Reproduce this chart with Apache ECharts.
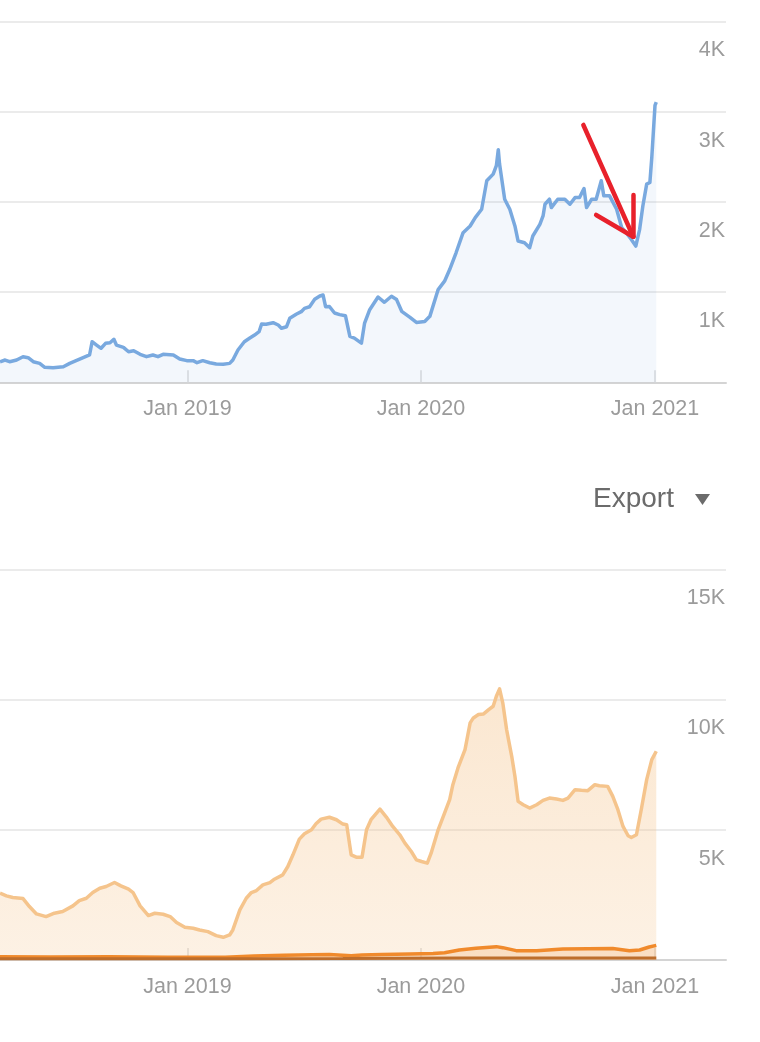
<!DOCTYPE html>
<html>
<head>
<meta charset="utf-8">
<script src="https://cdn.jsdelivr.net/npm/echarts@6/dist/echarts.min.js"></script>
<style>
html,body{margin:0;padding:0;background:#fff;}
#c{width:760px;height:1042px;}
</style>
</head>
<body>
<div id="c"></div>
<script>
// ---- data ----
const yearTicks = ['2019-01-01', '2020-01-01', '2021-01-01'];
const xRange = ['2018-03-14', '2021-04-22'];
const topYTicks = [0, 1000, 2000, 3000, 4000];
const bottomYTicks = [0, 5000, 10000, 15000];

const blueLine = [['2018-03-14',228],['2018-03-22',247],['2018-03-29',228],['2018-04-09',247],['2018-04-19',284],['2018-04-27',273],['2018-05-05',228],['2018-05-15',210],['2018-05-23',166],['2018-06-05',162],['2018-06-21',173],['2018-07-01',210],['2018-07-11',240],['2018-07-22',273],['2018-08-01',303],['2018-08-05',450],['2018-08-12',413],['2018-08-19',377],['2018-08-26',432],['2018-09-02',439],['2018-09-08',477],['2018-09-12',413],['2018-09-23',388],['2018-10-01',339],['2018-10-09',350],['2018-10-19',310],['2018-10-29',284],['2018-11-08',303],['2018-11-16',284],['2018-11-24',310],['2018-12-10',303],['2018-12-20',258],['2018-12-31',240],['2019-01-10',240],['2019-01-16',217],['2019-01-25',240],['2019-02-05',217],['2019-02-15',203],['2019-02-26',200],['2019-03-08',210],['2019-03-13',247],['2019-03-21',358],['2019-03-31',450],['2019-04-08',488],['2019-04-16',524],['2019-04-23',561],['2019-04-27',646],['2019-05-04',643],['2019-05-15',661],['2019-05-23',635],['2019-05-28',599],['2019-06-05',616],['2019-06-10',710],['2019-06-20',754],['2019-06-28',783],['2019-07-03',820],['2019-07-11',838],['2019-07-19',920],['2019-07-27',957],['2019-08-01',968],['2019-08-05',838],['2019-08-11',840],['2019-08-19',768],['2019-08-27',750],['2019-09-05',738],['2019-09-12',508],['2019-09-19',490],['2019-09-30',434],['2019-10-05',657],['2019-10-13',805],['2019-10-26',946],['2019-11-05',887],['2019-11-16',954],['2019-11-24',917],['2019-12-02',787],['2019-12-15',720],['2019-12-25',664],['2020-01-07',675],['2020-01-15',731],['2020-01-28',1028],['2020-02-07',1121],['2020-02-15',1250],['2020-02-25',1436],['2020-03-07',1659],['2020-03-18',1733],['2020-03-26',1826],['2020-04-05',1918],['2020-04-13',2234],['2020-04-23',2308],['2020-04-28',2401],['2020-05-01',2579],['2020-05-03',2419],['2020-05-11',2030],['2020-05-19',1918],['2020-05-27',1733],['2020-06-01',1566],['2020-06-11',1547],['2020-06-19',1492],['2020-06-24',1622],['2020-07-05',1751],['2020-07-10',1844],['2020-07-13',1974],['2020-07-20',2030],['2020-07-23',1937],['2020-08-02',2030],['2020-08-13',2030],['2020-08-21',1974],['2020-08-29',2048],['2020-09-05',2048],['2020-09-12',2148],['2020-09-16',1937],['2020-09-24',2030],['2020-10-01',2030],['2020-10-09',2234],['2020-10-13',2067],['2020-10-22',2067],['2020-11-02',1918],['2020-11-10',1714],['2020-11-17',1659],['2020-11-25',1584],['2020-12-02',1510],['2020-12-08',1696],['2020-12-13',1955],['2020-12-19',2197],['2020-12-24',2215],['2020-12-27',2494],['2021-01-01',3069],['2021-01-03',3106]];

const lightOrange = [['2018-03-14',2564],['2018-03-24',2462],['2018-04-03',2397],['2018-04-19',2359],['2018-04-29',2051],['2018-05-10',1769],['2018-05-25',1667],['2018-06-07',1795],['2018-06-20',1859],['2018-07-06',2077],['2018-07-16',2282],['2018-07-27',2372],['2018-08-06',2590],['2018-08-17',2756],['2018-08-27',2820],['2018-09-09',2974],['2018-09-19',2846],['2018-10-01',2718],['2018-10-08',2590],['2018-10-19',2077],['2018-11-01',1705],['2018-11-11',1795],['2018-11-24',1757],['2018-12-05',1667],['2018-12-15',1436],['2018-12-28',1256],['2019-01-10',1218],['2019-01-20',1154],['2019-02-02',1090],['2019-02-15',936],['2019-02-26',872],['2019-03-08',962],['2019-03-13',1154],['2019-03-24',1923],['2019-04-03',2372],['2019-04-11',2590],['2019-04-19',2667],['2019-04-29',2885],['2019-05-10',2974],['2019-05-17',3102],['2019-05-30',3269],['2019-06-07',3590],['2019-06-15',4039],['2019-06-25',4642],['2019-07-03',4846],['2019-07-14',5000],['2019-07-21',5231],['2019-07-29',5410],['2019-08-11',5480],['2019-08-22',5385],['2019-09-01',5218],['2019-09-07',5192],['2019-09-14',4038],['2019-09-22',3949],['2019-10-01',3949],['2019-10-08',5000],['2019-10-15',5385],['2019-10-29',5795],['2019-11-08',5487],['2019-11-18',5128],['2019-11-29',4808],['2019-12-07',4487],['2019-12-17',4166],['2019-12-25',3846],['2020-01-02',3782],['2020-01-11',3718],['2020-01-17',4102],['2020-01-28',5000],['2020-02-07',5641],['2020-02-15',6154],['2020-02-20',6731],['2020-02-28',7372],['2020-03-10',8076],['2020-03-18',9102],['2020-03-23',9294],['2020-03-31',9423],['2020-04-08',9448],['2020-04-16',9615],['2020-04-23',9743],['2020-04-28',10128],['2020-05-03',10410],['2020-05-08',9872],['2020-05-14',8846],['2020-05-22',7820],['2020-05-27',7051],['2020-06-01',6089],['2020-06-09',5962],['2020-06-19',5834],['2020-06-30',5962],['2020-07-10',6128],['2020-07-20',6218],['2020-07-31',6179],['2020-08-10',6128],['2020-08-18',6218],['2020-08-29',6538],['2020-09-08',6513],['2020-09-18',6500],['2020-09-29',6731],['2020-10-06',6692],['2020-10-19',6666],['2020-10-27',6282],['2020-11-04',5769],['2020-11-12',5128],['2020-11-20',4769],['2020-11-25',4705],['2020-12-03',4808],['2020-12-11',5834],['2020-12-19',6923],['2020-12-27',7692],['2021-01-03',8013]];

const darkOrange = [['2018-03-14',125],['2018-06-01',115],['2018-09-01',120],['2018-12-01',110],['2019-03-01',105],['2019-04-15',150],['2019-06-01',185],['2019-07-15',205],['2019-08-11',215],['2019-09-14',160],['2019-10-01',190],['2019-11-01',215],['2019-12-15',235],['2020-01-20',250],['2020-02-07',282],['2020-03-01',385],['2020-03-27',449],['2020-04-28',513],['2020-05-08',474],['2020-05-29',359],['2020-06-30',359],['2020-08-10',420],['2020-10-27',440],['2020-11-22',359],['2020-12-08',385],['2020-12-23',500],['2021-01-03',560]];

const brownLine = [['2018-03-14',50],['2019-03-01',52],['2019-09-01',60],['2020-03-01',72],['2020-09-01',78],['2021-01-03',80]];

const arrowShaft = [['2020-09-11',2853],['2020-11-28',1614]];
const arrowHeadLeft = [['2020-10-01',1855],['2020-11-28',1614]];
const arrowHeadRight = [['2020-11-28',2077],['2020-11-28',1614]];

// ---- helpers ----
function T(s){ const p = s.split('-').map(Number); return new Date(p[0], p[1]-1, p[2]).getTime(); }
function seg(pair){ return [{coord:[T(pair[0][0]), pair[0][1]]},{coord:[T(pair[1][0]), pair[1][1]]}]; }

const FONT = 'Liberation Sans, Arial, sans-serif';
const LABEL_COLOR = '#9b9b9b';
const GRID_COLOR = '#ebebeb';

function xAxisCfg(gridIndex){
  return {
    type: 'value', gridIndex: gridIndex,
    min: T(xRange[0]), max: T(xRange[1]),
    axisLine: {show: true, lineStyle: {color: '#d4d4d4', width: 2}},
    axisTick: {show: true, inside: true, length: 12, customValues: yearTicks.map(T), lineStyle: {color: '#dcdcdc', width: 1.5}},
    axisLabel: {show: true, customValues: yearTicks.map(T), margin: 16, fontSize: 21.5, color: LABEL_COLOR, fontFamily: FONT,
      formatter: function(v){ return 'Jan ' + new Date(v).getFullYear(); }},
    splitLine: {show: false}
  };
}
function yAxisCfg(gridIndex, ticks){
  return {
    type: 'value', gridIndex: gridIndex, position: 'right',
    min: ticks[0], max: ticks[ticks.length-1], interval: ticks[1]-ticks[0],
    axisLine: {show: false}, axisTick: {show: false},
    splitLine: {show: true, lineStyle: {color: GRID_COLOR, width: 2}},
    axisLabel: {inside: true, margin: 1, verticalAlign: 'top', padding: [18,0,0,0], fontSize: 21.5, color: LABEL_COLOR, fontFamily: FONT,
      formatter: function(v){ return v === 0 ? '' : (v/1000) + 'K'; }}
  };
}

const chart = echarts.init(document.getElementById('c'), null, {renderer: 'canvas'});
chart.setOption({
  animation: false,
  backgroundColor: '#ffffff',
  grid: [
    {left: 0, right: 34, top: 21.5, height: 360.8, containLabel: false},
    {left: 0, right: 34, top: 569.3, height: 390.7, containLabel: false}
  ],
  xAxis: [xAxisCfg(0), xAxisCfg(1)],
  yAxis: [yAxisCfg(0, topYTicks), yAxisCfg(1, bottomYTicks)],
  graphic: [
    {type: 'text', left: 593, top: 485, style: {text: 'Export', fontSize: 28, fontFamily: FONT, fill: '#6b6b6b'}},
    {type: 'polygon', shape: {points: [[695,494],[710,494],[702.5,505]]}, style: {fill: '#6b6b6b'}}
  ],
  series: [
    {
      type: 'line', xAxisIndex: 0, yAxisIndex: 0, data: blueLine.map(d => [T(d[0]), d[1]]),
      showSymbol: false, symbol: 'none', lineStyle: {color: '#79a9df', width: 3.5, join: 'round'},
      areaStyle: {color: 'rgba(122,170,224,0.13)'}, silent: true,
      markLine: {
        silent: true, symbol: ['none','none'], animation: false,
        label: {show: false},
        lineStyle: {color: '#e8212b', width: 4.5, type: 'solid', cap: 'round'},
        emphasis: {disabled: true},
        data: [seg(arrowShaft), seg(arrowHeadLeft), seg(arrowHeadRight)]
      }
    },
    {
      type: 'line', xAxisIndex: 1, yAxisIndex: 1, data: lightOrange.map(d => [T(d[0]), d[1]]),
      showSymbol: false, symbol: 'none', lineStyle: {color: '#f5c48c', width: 3.5, join: 'round'},
      areaStyle: {color: new echarts.graphic.LinearGradient(0,0,0,1,[{offset:0,color:'rgba(245,196,140,0.58)'},{offset:1,color:'rgba(245,196,140,0.33)'}])},
      silent: true
    },
    {
      type: 'line', xAxisIndex: 1, yAxisIndex: 1, data: darkOrange.map(d => [T(d[0]), d[1]]),
      showSymbol: false, symbol: 'none', lineStyle: {color: '#f08a2c', width: 3.5, join: 'round'},
      areaStyle: {color: 'rgba(240,138,44,0.25)'}, silent: true
    },
    {
      type: 'line', xAxisIndex: 1, yAxisIndex: 1, data: brownLine.map(d => [T(d[0]), d[1]]),
      showSymbol: false, symbol: 'none', lineStyle: {color: '#bd6e2c', width: 3},
      silent: true
    }
  ]
});
</script>
</body>
</html>
